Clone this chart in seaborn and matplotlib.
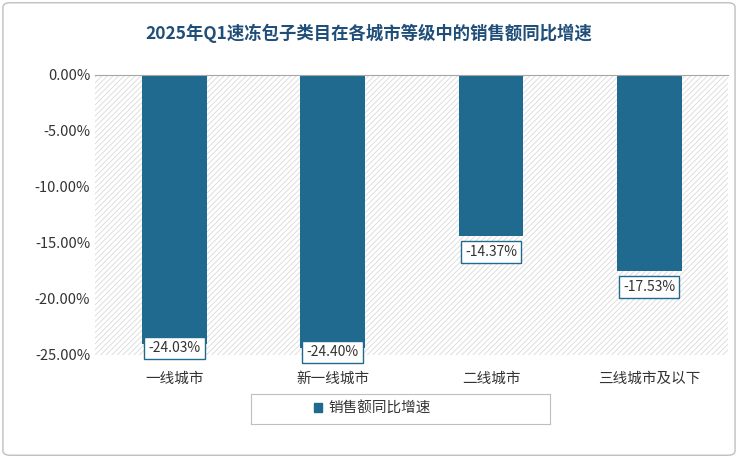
import matplotlib.pyplot as plt
import seaborn as sns
import pandas as pd
from matplotlib.patches import Rectangle, FancyBboxPatch

plt.rcParams['font.family'] = 'Noto Sans CJK SC'
plt.rcParams['hatch.color'] = '#d9d9d9'
plt.rcParams['hatch.linewidth'] = 0.6

cities = ['一线城市', '新一线城市', '二线城市', '三线城市及以下']
growth = [-24.03, -24.40, -14.37, -17.53]
df = pd.DataFrame({'city': cities, 'growth': growth})

fig = plt.figure(figsize=(7.38, 4.58), dpi=100)
fig.patches.append(FancyBboxPatch((0.004, 0.006), 0.992, 0.988, boxstyle='round,pad=0,rounding_size=0.01',
                                  transform=fig.transFigure, fill=False, ec='#bfbfbf', lw=1))
ax = fig.add_axes([0.129, 0.225, 0.858, 0.612])

ax.add_patch(Rectangle((0, 0), 1, 1, transform=ax.transAxes, facecolor='white',
                       hatch='//////', edgecolor='#d9d9d9', lw=0, zorder=0))
sns.barplot(data=df, x='city', y='growth', color='#1F6A8E', width=0.41, ax=ax, zorder=2,
            saturation=1)

for i, v in enumerate(growth):
    y = v + 0.3 if v < -22 else v - 0.8
    ax.text(i, y, f'{v:.2f}%', ha='center', va='top', fontsize=10, color='#333333',
            bbox=dict(boxstyle='square,pad=0.3', fc='white', ec='#1F6A8E', lw=1), zorder=3)

ax.set_ylim(-25, 0)
ax.set_xlim(-0.5, 3.5)
ax.set_yticks([0, -5, -10, -15, -20, -25])
ax.set_yticklabels([f'{t:.2f}%' for t in [0, -5, -10, -15, -20, -25]], fontsize=10.5, color='#333333')
ax.tick_params(axis='x', length=0, labelsize=10.5, colors='#333333', pad=12)
ax.tick_params(axis='y', length=0)
ax.set_xlabel('')
ax.set_ylabel('')
for s in ['left', 'right', 'bottom']:
    ax.spines[s].set_visible(False)
ax.spines['top'].set_color('#a6a6a6')

fig.text(0.5, 0.915, '2025年Q1速冻包子类目在各城市等级中的销售额同比增速', ha='center',
         fontsize=12.5, fontweight='bold', color='#1F4E79')

lax = fig.add_axes([0.34, 0.075, 0.405, 0.065])
lax.set_xticks([]); lax.set_yticks([])
for s in lax.spines.values():
    s.set_color('#bfbfbf')
lax.add_patch(Rectangle((0.21, 0.38), 0.028, 0.3, transform=lax.transAxes, color='#1F6A8E'))
lax.text(0.26, 0.5, '销售额同比增速', va='center', fontsize=10.5, color='#333333', transform=lax.transAxes)

fig.savefig('out.png', dpi=100)
